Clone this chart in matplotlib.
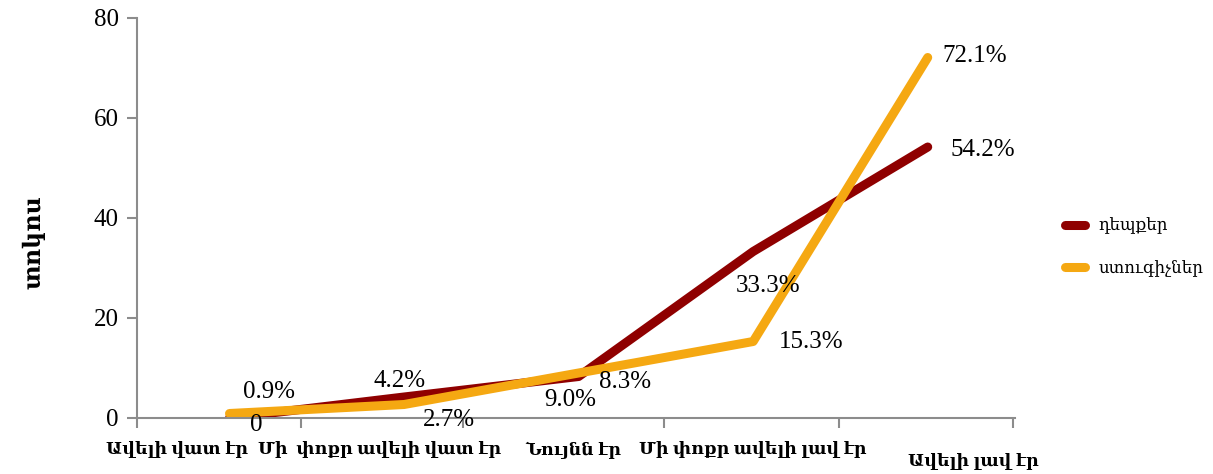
import matplotlib.pyplot as plt
import matplotlib.transforms as mtransforms
from matplotlib.lines import Line2D

categories = ['Ավելի վատ էր', 'Մի  փոքր ավելի վատ էր', 'Նույնն էր',
              'Մի փոքր ավելի լավ էր', 'Ավելի լավ էր']
cases = [0, 4.2, 8.3, 33.3, 54.2]
controls = [0.9, 2.7, 9.0, 15.3, 72.1]
case_labels = ['0', '4.2%', '8.3%', '33.3%', '54.2%']
control_labels = ['0.9%', '2.7%', '9.0%', '15.3%', '72.1%']
series_names = ['դեպքեր', 'ստուգիչներ']

RED = '#8f0000'
ORANGE = '#F5A812'
GREY = '#8c8c8c'
SERIF = ['Liberation Serif', 'DejaVu Serif']

# label offsets in pixels (dx, dy) per point
case_off = [(27, -7), (-5, 16), (46, -5), (15, -34), (55, -3)]
ctrl_off = [(39, 21), (45, -16), (-8, -27), (58, -1), (47, 2)]

plt.rcParams['font.family'] = SERIF

fig = plt.figure(figsize=(12.13, 4.74), dpi=100)
ax = fig.add_axes([137 / 1213, 56 / 474, (1015 - 137) / 1213, 400 / 474])

x = list(range(len(categories)))
ax.plot(x, cases, color=RED, lw=6.5, solid_capstyle='round', solid_joinstyle='round')
ax.plot(x, controls, color=ORANGE, lw=6.5, solid_capstyle='round', solid_joinstyle='round')

for i in x:
    ax.annotate(case_labels[i], (i, cases[i]), xytext=case_off[i], textcoords='offset pixels',
                ha='center', va='center', fontsize=18)
    ax.annotate(control_labels[i], (i, controls[i]), xytext=ctrl_off[i], textcoords='offset pixels',
                ha='center', va='center', fontsize=18)

ax.set_xlim(-0.53, 4.5)
ax.set_ylim(0, 80)
ax.set_yticks([0, 20, 40, 60, 80])
ax.tick_params(axis='y', labelsize=18, length=7, color=GREY, width=1.5, pad=6)
ax.set_xticks([-0.53, 0.41, 1.34, 2.49, 3.49, 4.49])
ax.set_xticklabels([])
ax.tick_params(axis='x', length=7, color=GREY, width=1.5)
for s in ['top', 'right']:
    ax.spines[s].set_visible(False)
for s in ['left', 'bottom']:
    ax.spines[s].set_color(GREY)
    ax.spines[s].set_linewidth(1.5)

# category labels, placed like the original (shifted, last one lower)
lab_dx = [-0.3, -0.14, -0.03, 0.0, 0.26]
lab_y = [450, 450, 450, 450, 462]
trans = mtransforms.blended_transform_factory(ax.transData, fig.transFigure)
for i, c in enumerate(categories):
    ax.text(i + lab_dx[i], 1 - lab_y[i] / 474, c, transform=trans,
            ha='center', va='center', fontsize=12.5, fontweight='bold')

fig.text(34 / 1213, 1 - 242 / 474, 'տոկոս', rotation=90, ha='center', va='center',
         fontsize=17, fontweight='bold')

handles = [Line2D([], [], color=RED, lw=6.5, solid_capstyle='round'),
           Line2D([], [], color=ORANGE, lw=6.5, solid_capstyle='round')]
fig.legend(handles, series_names, loc='center left', bbox_to_anchor=(1050 / 1213, 1 - 247 / 474),
           frameon=False, fontsize=12, handlelength=1.2, labelspacing=1.5)

fig.savefig('out.png', dpi=100)
